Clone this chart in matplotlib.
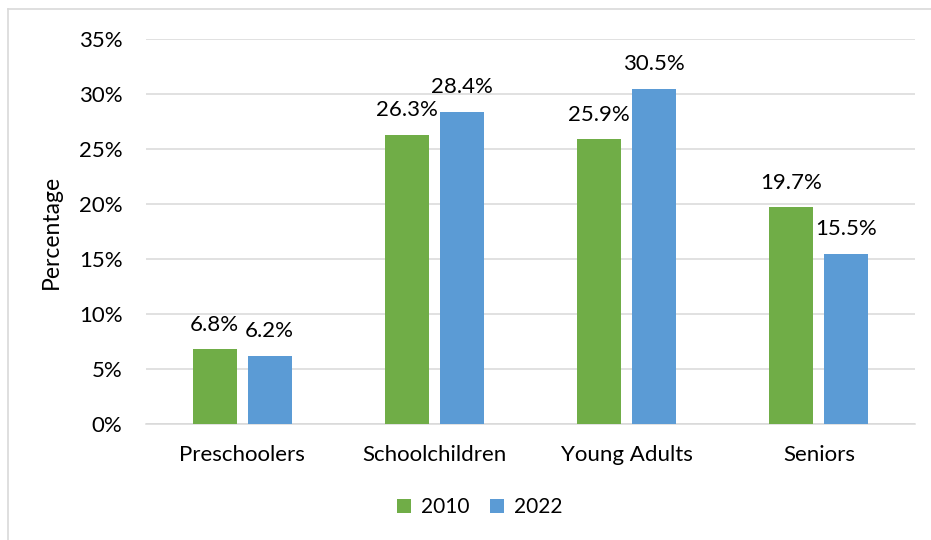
import numpy as np
import matplotlib.pyplot as plt
from matplotlib.lines import Line2D
from matplotlib.ticker import FuncFormatter

categories = ['Preschoolers', 'Schoolchildren', 'Young Adults', 'Seniors']
values_2010 = [6.8, 26.3, 25.9, 19.7]
values_2022 = [6.2, 28.4, 30.5, 15.5]
series_names = ['2010', '2022']
yticks = [0, 5, 10, 15, 20, 25, 30, 35]

plt.rcParams['font.family'] = ['Lato', 'DejaVu Sans']
W, H = 931, 540
fig = plt.figure(figsize=(W / 100, H / 100), dpi=100)
ax = fig.add_axes([146 / W, 1 - 424 / H, (915 - 146) / W, (424 - 39) / H])

x = np.arange(len(categories))
bw = 0.229
off = 0.143
b1 = ax.bar(x - off, values_2010, bw, color='#70AD47', label=series_names[0], zorder=3)
b2 = ax.bar(x + off, values_2022, bw, color='#5B9BD5', label=series_names[1], zorder=3)

for bars, vals in [(b1, values_2010), (b2, values_2022)]:
    for rect, v in zip(bars, vals):
        ax.annotate(f'{v:.1f}%', (rect.get_x() + rect.get_width() / 2, v),
                    xytext=(0, 17.5), textcoords='offset points',
                    ha='center', va='center', fontsize=16, color='#000000')

ax.set_xlim(-0.5, 3.5)
ax.set_ylim(0, 35)
ax.set_yticks(yticks)
ax.yaxis.set_major_formatter(FuncFormatter(lambda v, p: f'{v:.0f}%'))
ax.set_xticks(x)
ax.set_xticklabels(categories)
ax.tick_params(axis='both', length=0, labelsize=16, colors='#000000')
ax.tick_params(axis='y', pad=17)
ax.tick_params(axis='x', pad=15)
ax.grid(axis='y', color='#D9D9D9', linewidth=1.1, zorder=0)
for s in ['top', 'right', 'left']:
    ax.spines[s].set_visible(False)
ax.spines['bottom'].set_color('#D9D9D9')
ax.spines['bottom'].set_linewidth(1.1)
ax.set_ylabel('Percentage', fontsize=16.5, labelpad=12)

fig.legend(handles=[b1, b2], labels=series_names, loc='center',
           bbox_to_anchor=(480 / W, 1 - 507 / H), ncol=2, frameon=False,
           fontsize=15, handlelength=0.65, handleheight=0.65, handletextpad=0.5,
           columnspacing=1.0)

# chart border (left and top only visible)
fig.add_artist(Line2D([8 / W, 8 / W], [0, 1 - 9 / H], transform=fig.transFigure,
                      color='#D9D9D9', linewidth=1.2))
fig.add_artist(Line2D([8 / W, 1], [1 - 9 / H, 1 - 9 / H], transform=fig.transFigure,
                      color='#D9D9D9', linewidth=1.2))

fig.savefig('out.png', dpi=100)
